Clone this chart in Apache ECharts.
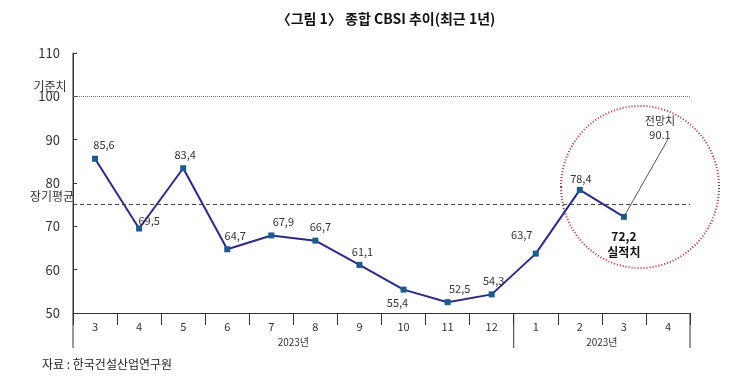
<!DOCTYPE html>
<html><head><meta charset="utf-8">
<script src="https://cdn.jsdelivr.net/npm/echarts@6/dist/echarts.min.js"></script>
<style>html,body{margin:0;padding:0;background:#fff}#c{width:730px;height:383px}</style>
</head><body><div id="c"></div>
<script>
const categories = ['3','4','5','6','7','8','9','10','11','12','1','2','3','4'];
const actual = [85.6, 69.5, 83.4, 64.7, 67.9, 66.7, 61.1, 55.4, 52.5, 54.3, 63.7, 78.4, 72.2, null];
const forecast = [null, null, null, null, null, null, null, null, null, null, null, null, 72.2, 90.1];
const baseline = 100;
const longAvg = 75;
const yearLabels = ['2023년', '2023년'];
const yTicks = {min: 50, max: 110, interval: 10};

const F = '"Noto Sans CJK KR", "Liberation Sans", sans-serif';
const labelShift = [[9,0],[10,6],[2,0],[8,0],[12,0],[5,0],[3,0],[-6,0],[12,0],[2,0],[-14,-5],[1,2],[0,0]];

const chart = echarts.init(document.getElementById('c'));
chart.setOption({
  animation: false,
  title: {text: '〈그림 1〉 종합 CBSI 추이(최근 1년)', left: 381, textAlign: 'center', top: 7,
    textStyle: {fontFamily: F, fontSize: 14, fontWeight: 'bold', color: '#111'}},
  grid: {left: 73, right: 40, top: 53, bottom: 70},
  xAxis: {type: 'category', data: categories, boundaryGap: true,
    axisLine: {lineStyle: {color: '#333', width: 1}},
    axisTick: {show: true, interval: 0, length: 12, lineStyle: {color: '#333'}},
    axisLabel: {interval: 0, fontFamily: F, fontSize: 11, color: '#333', margin: 8}},
  yAxis: {type: 'value', min: yTicks.min, max: yTicks.max, interval: yTicks.interval,
    axisLine: {show: true, lineStyle: {color: '#333'}},
    axisTick: {show: true, inside: true, length: 4, lineStyle: {color: '#333'}},
    splitLine: {show: false},
    axisLabel: {fontFamily: F, fontSize: 13, color: '#333', margin: 13}},
  series: [
    {type: 'line', symbol: 'rect', symbolSize: 6,
      itemStyle: {color: '#1f5a8c'}, lineStyle: {color: '#2a2a8a', width: 2},
      label: {show: true, position: 'top', fontFamily: F, fontSize: 11, color: '#333',
        formatter: p => String(p.value).replace('.', ',')},
      labelLayout: p => {
        const s = labelShift[p.dataIndex] || [0, 0];
        return {dx: s[0], dy: s[1], hideOverlap: false};
      },
      data: actual.map((v, i) => {
        if (i === 7) return {value: v, label: {position: 'bottom'}};
        if (i === 12) return {value: v, label: {position: 'bottom', distance: 9, fontWeight: 'bold', fontSize: 12, color: '#111', lineHeight: 16,
          formatter: p => String(p.value).replace('.', ',') + '\n실적치'}};
        return {value: v};
      }),
      markLine: {silent: true, symbol: 'none', label: {show: false},
        data: [
          {yAxis: baseline, lineStyle: {color: '#777', type: [1, 1], width: 1}},
          {yAxis: longAvg, lineStyle: {color: '#444', type: [4, 3], width: 1}}
        ]},
      z: 3},
    {type: 'line', symbol: 'circle', symbolSize: 1, showSymbol: true,
      itemStyle: {color: 'rgba(0,0,0,0)'}, lineStyle: {color: '#555', width: 1},
      data: forecast.map((v, i) => ({value: v, label: {show: i === 13}})),
      label: {position: 'top', fontFamily: F, fontSize: 11, color: '#333', lineHeight: 14,
        formatter: p => '전망치\n' + p.value},
      labelLayout: {dx: -8, dy: 8},
      z: 2}
  ]
});

function px(ix, v) { return chart.convertToPixel({gridIndex: 0}, [ix, v]); }
const yBottom = px(0, yTicks.min)[1];
const yTop = px(0, yTicks.max)[1];
const bandW = px(1, 50)[0] - px(0, 50)[0];
const xStart = px(0, 50)[0] - bandW / 2;
const xSplit = px(10, 50)[0] - bandW / 2;
const xEnd = px(13, 50)[0] + bandW / 2;
const longLine = (x) => ({type: 'line', shape: {x1: x, y1: yBottom, x2: x, y2: yBottom + 35}, style: {stroke: '#333', lineWidth: 1}});
chart.setOption({
  graphic: [
    {type: 'line', shape: {x1: xStart, y1: yTop, x2: xStart, y2: yBottom + 35}, style: {stroke: '#333', lineWidth: 1}},
    longLine(xSplit), longLine(xEnd),
    {type: 'text', x: (xStart + xSplit) / 2, y: yBottom + 29, style: {text: yearLabels[0], fontFamily: F, fontSize: 10, fill: '#333', align: 'center', verticalAlign: 'middle'}},
    {type: 'text', x: (xSplit + xEnd) / 2, y: yBottom + 29, style: {text: yearLabels[1], fontFamily: F, fontSize: 10, fill: '#333', align: 'center', verticalAlign: 'middle'}},
    {type: 'text', x: 50, y: px(0, baseline)[1] - 10, style: {text: '기준치', fontFamily: F, fontSize: 12, fill: '#333', align: 'center', verticalAlign: 'middle'}},
    {type: 'text', x: 52, y: px(0, longAvg)[1] - 8, style: {text: '장기평균', fontFamily: F, fontSize: 12, fill: '#333', align: 'center', verticalAlign: 'middle'}},
    {type: 'ellipse', shape: {cx: 640, cy: 187, rx: 79, ry: 81}, style: {fill: 'none', stroke: '#b03030', lineWidth: 2, lineDash: [1, 2]}},
    {type: 'text', x: 42, y: 364, style: {text: '자료 : 한국건설산업연구원', fontFamily: F, fontSize: 12, fill: '#222', verticalAlign: 'middle'}}
  ]
});
</script></body></html>
